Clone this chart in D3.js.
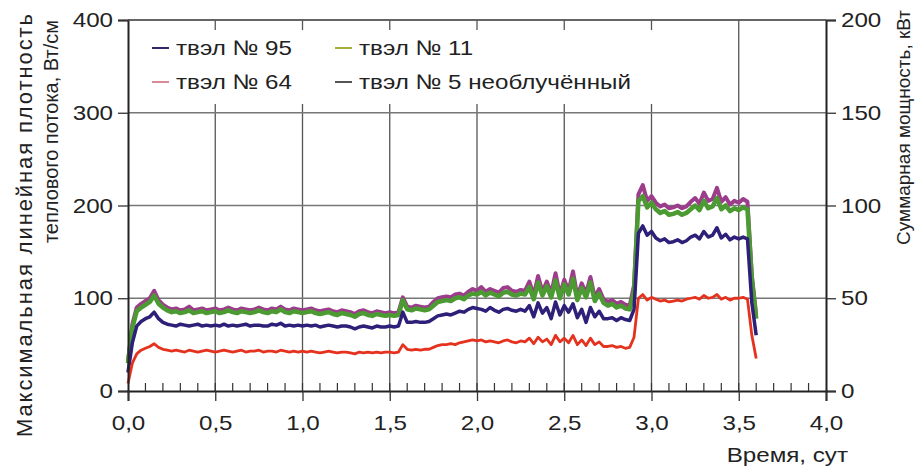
<!DOCTYPE html>
<html>
<head>
<meta charset="utf-8">
<script src="https://cdn.jsdelivr.net/npm/d3@7"></script>
<style>
  body { margin: 0; background: #fff; }
  text { font-family: "Liberation Sans", Arial, sans-serif; fill: #222; }
</style>
</head>
<body>
<svg id="chart" width="916" height="469"></svg>
<script>
// time grid: one sample every 0.025 сут, 0 .. 3.6
const timeStep = 0.025;

// твэл № 11 (Вт/см)
const rod11 = [
  30, 68, 86, 90, 93, 96, 103, 94, 90, 87,
  85, 86, 84, 85, 87, 84, 85, 86, 84, 85,
  86, 84, 85, 87, 85, 84, 86, 85, 84, 85,
  87, 85, 84, 86, 85, 88, 85, 84, 86, 85,
  84, 85, 86, 84, 83, 84, 85, 83, 82, 84,
  83, 82, 80, 83, 84, 82, 81, 83, 82, 81,
  82, 81, 82, 98, 88, 87, 89, 88, 87, 88,
  92, 96, 97, 98, 97, 100, 101, 99, 103, 105,
  104, 107, 103, 106, 104, 102, 106, 107, 104, 103,
  105, 104, 112, 99, 117, 103, 113, 101, 119, 100,
  115, 104, 121, 98, 111, 101, 117, 97, 105, 95,
  92, 94, 90, 92, 89, 88, 108, 205, 210, 198,
  203, 196, 192, 194, 190, 191, 193, 190, 192, 196,
  200, 195, 205, 197, 199, 208, 196, 200, 194, 197,
  195, 198, 196, 120, 78
];

// твэл № 95
const rod95 = [
  20, 52, 70, 75, 78, 80, 85, 78, 74, 72,
  71, 70, 72, 71, 70, 71, 72, 70, 71, 70,
  71, 70, 72, 70, 71, 70, 71, 72, 70, 71,
  71, 70, 70, 72, 71, 73, 70, 71, 70, 71,
  70, 71, 70, 71, 69, 70, 71, 70, 69, 70,
  70, 69, 67, 69, 70, 69, 68, 70, 69, 69,
  70, 69, 70, 85, 74, 74, 75, 74, 74, 75,
  78, 81, 82, 83, 82, 84, 86, 85, 88, 90,
  89, 88, 86, 90, 87, 85, 88, 89, 87, 86,
  88, 86, 92, 80, 95, 84, 90, 78, 96, 82,
  92, 85, 94, 79, 88, 74, 90, 80, 86, 78,
  78, 79, 76, 79, 77, 76, 88, 170, 178, 168,
  172, 165, 162, 164, 160, 161, 163, 160, 162, 166,
  168, 164, 172, 166, 168, 176, 165, 169, 163, 166,
  164, 166, 164, 95, 60
];

// твэл № 64
const rod64 = [
  8, 30, 40, 44, 46, 48, 51, 47, 45, 44,
  43, 44, 43, 42, 44, 43, 42, 43, 44, 43,
  42, 43, 44, 43, 42, 43, 44, 42, 43, 43,
  44, 42, 43, 43, 42, 44, 43, 42, 43, 42,
  43, 42, 43, 42, 41, 42, 43, 42, 41, 42,
  42, 41, 40, 42, 41, 42, 41, 42, 41, 42,
  42, 41, 42, 50, 45, 44, 45, 44, 45, 45,
  47, 49, 50, 50, 51, 50, 52, 53, 54, 55,
  54, 55, 53, 54, 53, 52, 54, 55, 53, 52,
  54, 53, 57, 51, 58, 53, 56, 50, 60, 53,
  57, 52, 60, 50, 55, 49, 57, 50, 53, 48,
  48, 49, 47, 48, 46, 47, 58, 100, 104, 98,
  101, 99, 97, 98, 96, 97, 98, 97, 99, 100,
  101, 99, 103, 100, 101, 104, 99, 101, 98, 100,
  100, 101, 99, 60, 35
];

// твэл № 5 необлучённый
const rod5 = [
  32, 72, 90, 94, 97, 100, 108, 98, 93, 90,
  88, 89, 87, 88, 91, 87, 88, 89, 87, 88,
  89, 87, 88, 90, 88, 87, 89, 88, 87, 88,
  90, 88, 87, 89, 88, 91, 88, 87, 89, 88,
  87, 88, 89, 87, 86, 87, 88, 86, 85, 87,
  86, 85, 83, 86, 87, 85, 84, 86, 85, 84,
  85, 84, 85, 101, 91, 90, 92, 91, 90, 91,
  96, 100, 101, 102, 101, 104, 105, 103, 107, 110,
  108, 112, 107, 110, 108, 106, 111, 112, 108, 107,
  109, 108, 118, 103, 124, 107, 118, 105, 127, 104,
  120, 108, 129, 102, 116, 105, 123, 101, 110, 99,
  96, 98, 94, 96, 93, 92, 114, 212, 222, 205,
  210, 203, 199, 201, 197, 198, 200, 197, 199, 204,
  208, 202, 214, 205, 207, 219, 204, 209, 201, 205,
  203, 207, 204, 125, 82
];

const xTicks = [0, 0.5, 1, 1.5, 2, 2.5, 3, 3.5, 4];
const yTicks = [0, 100, 200, 300, 400];
const y2Ticks = [0, 50, 100, 150, 200];

const seriesList = [
  { name: 'твэл № 5 необлучённый', values: rod5, color: '#9c3d8c', width: 4, legend: '#555' },
  { name: 'твэл № 11', values: rod11, color: '#4c9a32', width: 4.5, legend: '#a8ad3a' },
  { name: 'твэл № 95', values: rod95, color: '#2e1f78', width: 3.5, legend: '#2e2a70' },
  { name: 'твэл № 64', values: rod64, color: '#e5321f', width: 2.8, legend: '#d98a98' }
];

// ----------------------------------------------
// Layout
// ----------------------------------------------
const svg = d3.select('#chart');
const plotLeft = 128, plotRight = 826, plotTop = 20, plotBottom = 391;
const stretch = 1.15; // the source lettering is a bit wider than Arial

const x = d3.scaleLinear().domain([0, 4]).range([plotLeft, plotRight]);
const y = d3.scaleLinear().domain([0, 400]).range([plotBottom, plotTop]);
const y2 = d3.scaleLinear().domain([0, 200]).range([plotBottom, plotTop]);

const fmtX = d => d.toFixed(1).replace('.', ',');

// grid
const grid = svg.append('g');
grid.selectAll('line.v')
  .data(xTicks.slice(1, -1))
  .join('line')
  .attr('x1', d => x(d)).attr('x2', d => x(d))
  .attr('y1', plotTop).attr('y2', plotBottom)
  .attr('stroke', '#555').attr('stroke-width', 1.3);
grid.selectAll('line.h')
  .data(yTicks.slice(1))
  .join('line')
  .attr('x1', plotLeft).attr('x2', plotRight)
  .attr('y1', d => y(d)).attr('y2', d => y(d))
  .attr('stroke', '#777').attr('stroke-width', 1.3);

// minor ticks along the time axis
grid.selectAll('line.minor')
  .data(d3.range(1, 40).map(i => i / 10))
  .join('line')
  .attr('x1', d => x(d)).attr('x2', d => x(d))
  .attr('y1', plotBottom).attr('y2', plotBottom - 8)
  .attr('stroke', '#333').attr('stroke-width', 1.2);

// legend background hides the grid under it
svg.append('rect')
  .attr('x', plotLeft + 2).attr('y', 30)
  .attr('width', 560).attr('height', 74)
  .attr('fill', '#fff');

// ----------------------------------------------
// Lines
// ----------------------------------------------
const line = d3.line()
  .x((d, i) => x(i * timeStep))
  .y(d => y(d));

svg.append('g')
  .selectAll('path')
  .data(seriesList)
  .join('path')
  .attr('d', d => line(d.values))
  .attr('fill', 'none')
  .attr('stroke', d => d.color)
  .attr('stroke-width', d => d.width)
  .attr('stroke-linejoin', 'round');

// ----------------------------------------------
// Axes
// ----------------------------------------------
const axisLeft = svg.append('g')
  .attr('transform', `translate(${plotLeft},0)`)
  .call(d3.axisLeft(y).tickValues(yTicks).tickSize(10).tickPadding(5).tickFormat(d3.format('d')));

const axisRight = svg.append('g')
  .attr('transform', `translate(${plotRight},0)`)
  .call(d3.axisRight(y2).tickValues(y2Ticks).tickSize(10).tickPadding(5).tickFormat(d3.format('d')));

const axisBottom = svg.append('g')
  .attr('transform', `translate(0,${plotBottom})`)
  .call(d3.axisBottom(x).tickValues(xTicks).tickSize(10).tickPadding(14).tickFormat(fmtX));

[axisLeft, axisRight, axisBottom].forEach(a => {
  a.select('.domain').attr('stroke', '#222').attr('stroke-width', 2);
  a.selectAll('.tick line').attr('stroke', '#333').attr('stroke-width', 1.3);
  a.selectAll('.tick text').attr('font-size', 21).attr('fill', '#222')
    .attr('class', 'wide')
    .style('font-family', '"Liberation Sans", Arial, sans-serif');
});

// top border
svg.append('line')
  .attr('x1', plotLeft).attr('x2', plotRight)
  .attr('y1', plotTop).attr('y2', plotTop)
  .attr('stroke', '#555').attr('stroke-width', 1.5);

// ----------------------------------------------
// Titles
// ----------------------------------------------
svg.append('text')
  .attr('transform', 'translate(32,14) rotate(-90)')
  .attr('text-anchor', 'end')
  .attr('font-size', 22)
  .attr('textLength', 423)
  .attr('lengthAdjust', 'spacing')
  .text('Максимальная  линейная плотность');

svg.append('text')
  .attr('transform', 'translate(58,20) rotate(-90)')
  .attr('text-anchor', 'end')
  .attr('font-size', 20)
  .text('теплового потока, Вт/см');

svg.append('text')
  .attr('transform', 'translate(910,10) rotate(-90)')
  .attr('text-anchor', 'end')
  .attr('font-size', 19)
  .text('Суммарная мощность, кВт');

svg.append('text')
  .attr('class', 'wide')
  .attr('x', 848).attr('y', 462)
  .attr('text-anchor', 'end')
  .attr('font-size', 21)
  .text('Время, сут');

// ----------------------------------------------
// Legend
// ----------------------------------------------
const legendItems = [
  { s: seriesList[2], x: 152, y: 55 },
  { s: seriesList[1], x: 335, y: 55 },
  { s: seriesList[3], x: 152, y: 89 },
  { s: seriesList[0], x: 335, y: 89 }
];

const legend = svg.append('g')
  .selectAll('g')
  .data(legendItems)
  .join('g')
  .attr('transform', d => `translate(${d.x},${d.y})`);

legend.append('line')
  .attr('x1', 0).attr('x2', 17)
  .attr('y1', -7).attr('y2', -7)
  .attr('stroke', d => d.s.legend)
  .attr('stroke-width', 2);

legend.append('text')
  .attr('class', 'wide')
  .attr('x', 24)
  .attr('font-size', 21)
  .text(d => d.s.name);

// widen horizontal lettering to match the source
svg.selectAll('text.wide').each(function () {
  const w = this.getComputedTextLength();
  d3.select(this)
    .attr('textLength', w * stretch)
    .attr('lengthAdjust', 'spacingAndGlyphs');
});
</script>
</body>
</html>
